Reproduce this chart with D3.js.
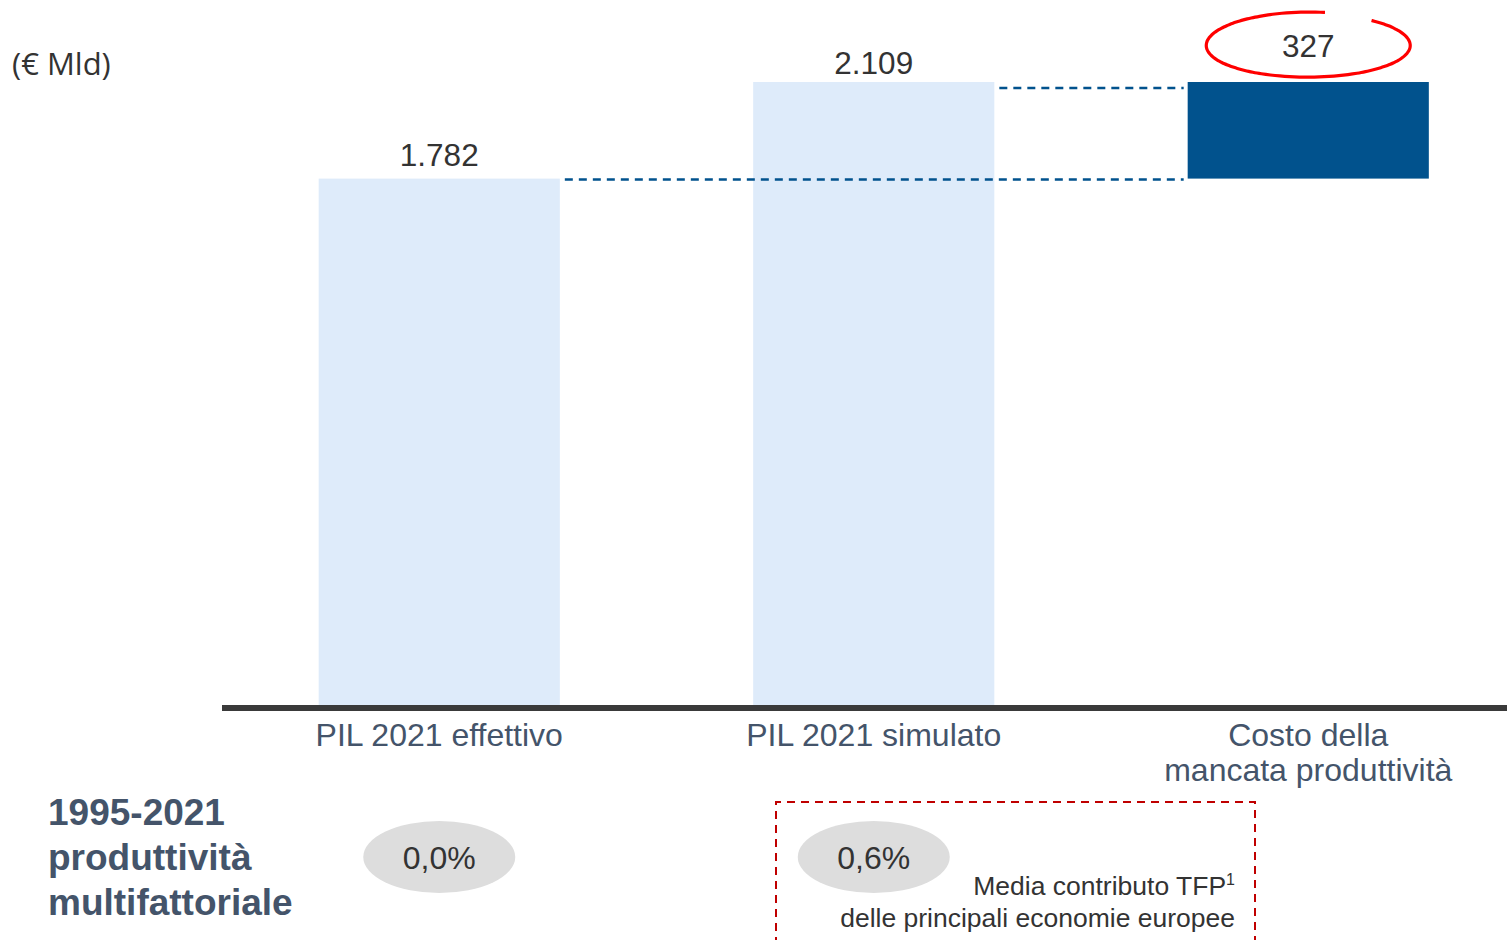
<!DOCTYPE html>
<html>
<head>
  <meta charset="utf-8">
  <title>PIL 2021 - costo della mancata produttività</title>
  <style>
    body { margin: 0; padding: 0; background: #fff; }
    svg { display: block; font-family: "Liberation Sans", Arial, sans-serif; }
  </style>
</head>
<body>
<svg class="chart"></svg>
<script src="https://cdn.jsdelivr.net/npm/d3@7"></script>
<script>

// data
var categories = ["PIL 2021 effettivo", "PIL 2021 simulato", "Costo della|mancata produttività"];
var valueLabels = ["1.782", "2.109", "327"];
var barStart = [0, 0, 1782];
var barEnd = [1782, 2109, 2109];
var tfpLabels = ["0,0%", "0,6%"];

var W = 1507, H = 940;

var svg = d3.select(".chart")
    .attr("width", W)
    .attr("height", H);

var x = d3.scaleBand()
    .domain(d3.range(categories.length))
    .range([222, 1525.5])
    .paddingInner(0.445)
    .paddingOuter(0.2225);

var y = d3.scaleLinear()
    .domain([0, 2109])
    .range([705, 82]);

var colors = ["#deebfa", "#deebfa", "#01528d"];
var labelGap = [13, 8, 25];

// unit label
svg.append("text")
    .attr("x", 12).attr("y", 75)
    .style("font-family", "'Open Sans', sans-serif")
    .style("font-size", "31px")
    .attr("fill", "#333")
    .text("(€ Mld)");

// bars
svg.selectAll(".bar")
    .data(categories)
    .enter().append("rect")
    .attr("class", "bar")
    .attr("x", function(d, i) { return x(i); })
    .attr("width", x.bandwidth())
    .attr("y", function(d, i) { return y(barEnd[i]); })
    .attr("height", function(d, i) { return y(barStart[i]) - y(barEnd[i]); })
    .attr("fill", function(d, i) { return colors[i]; });

// connector lines
svg.append("line")
    .attr("x1", x(0) + x.bandwidth() + 5).attr("x2", x(2) - 4)
    .attr("y1", y(1782) + 1).attr("y2", y(1782) + 1)
    .attr("stroke", "#01528d").attr("stroke-width", 2.5)
    .attr("stroke-dasharray", "8,6");
svg.append("line")
    .attr("x1", x(1) + x.bandwidth() + 5).attr("x2", x(2) - 4)
    .attr("y1", y(2109) + 6).attr("y2", y(2109) + 6)
    .attr("stroke", "#01528d").attr("stroke-width", 2.5)
    .attr("stroke-dasharray", "8,6");

// value labels
svg.selectAll(".val")
    .data(valueLabels)
    .enter().append("text")
    .attr("class", "val")
    .attr("x", function(d, i) { return x(i) + x.bandwidth() / 2; })
    .attr("y", function(d, i) { return y(barEnd[i]) - labelGap[i]; })
    .attr("text-anchor", "middle")
    .style("font-size", "31.5px")
    .attr("fill", "#333")
    .text(function(d) { return d; });

// red hand-drawn ellipse around 327 (open at the top)
var cx = x(2) + x.bandwidth() / 2, cy = 45;
var t0 = -1.738, t1 = 4.034;
var pts = d3.range(0, 121).map(function(k) {
  var t = t0 + k / 120 * (t1 - t0);
  var rx = 102 + 1.5 * Math.sin(t), ry = 33 - 1.5 * (k / 120);
  return [cx - rx * Math.cos(t), cy + ry * Math.sin(t)];
});
svg.append("path")
    .attr("d", d3.line().curve(d3.curveBasis)(pts))
    .attr("fill", "none")
    .attr("stroke", "#ff0000")
    .attr("stroke-width", 3.2);

// axis line
svg.append("line")
    .attr("x1", 222).attr("x2", W)
    .attr("y1", y(0) + 3).attr("y2", y(0) + 3)
    .attr("stroke", "#3a3a3a").attr("stroke-width", 6);

// category labels
svg.selectAll(".cat")
    .data(categories)
    .enter().append("text")
    .attr("class", "cat")
    .attr("text-anchor", "middle")
    .attr("fill", "#44546a")
    .style("font-size", "32px")
    .each(function(d, i) {
      var t = d3.select(this);
      d.split("|").forEach(function(line, j) {
        t.append("tspan")
          .attr("x", x(i) + x.bandwidth() / 2)
          .attr("y", 746 + j * 35)
          .text(line);
      });
    });

// bottom section title
var title = svg.append("text")
    .attr("fill", "#44546a")
    .style("font-size", "37px")
    .style("font-weight", "bold");
["1995-2021", "produttività", "multifattoriale"].forEach(function(line, j) {
  title.append("tspan").attr("x", 48).attr("y", 825 + j * 45).text(line);
});

// red dashed box
svg.append("path")
    .attr("d", "M776," + (H + 5) + "V802H1255V" + (H + 5))
    .attr("fill", "none")
    .attr("stroke", "#c00000")
    .attr("stroke-width", 2)
    .attr("stroke-dasharray", "8,6");

// grey ellipses with TFP values
svg.selectAll(".tfpE")
    .data(tfpLabels)
    .enter().append("ellipse")
    .attr("class", "tfpE")
    .attr("cx", function(d, i) { return x(i) + x.bandwidth() / 2; })
    .attr("cy", 857)
    .attr("rx", 76).attr("ry", 36)
    .attr("fill", "#dddddd");
svg.selectAll(".tfpT")
    .data(tfpLabels)
    .enter().append("text")
    .attr("class", "tfpT")
    .attr("x", function(d, i) { return x(i) + x.bandwidth() / 2; })
    .attr("y", 869)
    .attr("text-anchor", "middle")
    .style("font-size", "32px")
    .attr("fill", "#333")
    .text(function(d) { return d; });

// note
var note = svg.append("text")
    .attr("text-anchor", "end")
    .attr("fill", "#333")
    .style("font-size", "26.5px");
var l1 = note.append("tspan").attr("x", 1235).attr("y", 895).text("Media contributo TFP");
l1.append("tspan").style("font-size", "16px").attr("dy", -10).text("1");
note.append("tspan").attr("x", 1235).attr("y", 927).text("delle principali economie europee");

</script>
</body>
</html>
